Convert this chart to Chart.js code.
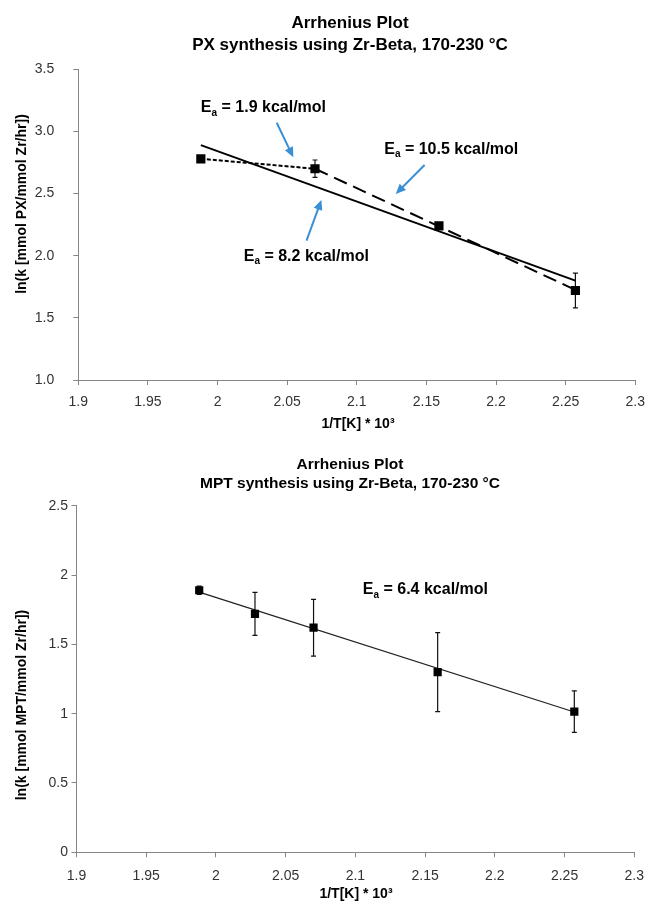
<!DOCTYPE html>
<html>
<head>
<meta charset="utf-8">
<title>Arrhenius Plot</title>
<script src="https://cdn.jsdelivr.net/npm/chart.js@4.4.1/dist/chart.umd.min.js"></script>
<style>
  body { margin: 0; background: #fff; }
  .wrap { position: relative; width: 654px; height: 909px; }
  canvas { position: absolute; left: 0; }
  #pxChart { top: 0; }
  #mptChart { top: 450px; }
</style>
</head>
<body>
<div class="wrap">
  <canvas id="pxChart" width="654" height="450"></canvas>
  <canvas id="mptChart" width="654" height="459"></canvas>
</div>
<script>
// x axis is the same for both plots
const xTicks = [1.9, 1.95, 2.0, 2.05, 2.1, 2.15, 2.2, 2.25, 2.3];
const xTickLabels = ["1.9", "1.95", "2", "2.05", "2.1", "2.15", "2.2", "2.25", "2.3"];

// PX synthesis (top)
const pxX = [1.988, 2.070, 2.159, 2.257];
const pxY = [2.78, 2.70, 2.24, 1.72];
const pxErr = [0, 0.07, 0, 0.14];
const pxFitX = [1.988, 2.257];      // overall fit, 8.2 kcal/mol
const pxFitY = [2.89, 1.80];
const pxLowX = [1.988, 2.070];      // 1.9 kcal/mol
const pxLowY = [2.78, 2.70];
const pxHighX = [2.070, 2.257];     // 10.5 kcal/mol
const pxHighY = [2.70, 1.725];
const pxYTicks = [1.0, 1.5, 2.0, 2.5, 3.0, 3.5];
const pxYTickLabels = ["1.0", "1.5", "2.0", "2.5", "3.0", "3.5"];

// MPT synthesis (bottom)
const mptX = [1.988, 2.028, 2.070, 2.159, 2.257];
const mptY = [1.89, 1.72, 1.62, 1.30, 1.015];
const mptErr = [0.03, 0.155, 0.205, 0.285, 0.15];
const mptFitX = [1.988, 2.257];     // 6.4 kcal/mol
const mptFitY = [1.877, 1.012];
const mptYTicks = [0, 0.5, 1, 1.5, 2, 2.5];
const mptYTickLabels = ["0", "0.5", "1", "1.5", "2", "2.5"];

const fam = "'Liberation Sans Narrow', 'Liberation Sans', sans-serif";
const axisColor = "#868686";
const tickColor = "#333333";
const arrowColor = "#3a8fd5";

Chart.defaults.font.family = fam;

function points(xs, ys) {
  return xs.map((x, i) => ({ x: x, y: ys[i] }));
}

function makeScales(o) {
  return {
    x: {
      type: "linear", min: 1.9, max: 2.3,
      afterBuildTicks: (scale) => { scale.ticks = xTicks.map(v => ({ value: v })); },
      afterFit: (scale) => { scale.height = o.xHeight; },
      grid: { drawOnChartArea: false, drawTicks: true, tickLength: 5, color: axisColor },
      border: { color: axisColor, width: 1 },
      ticks: { padding: o.xPad, color: tickColor, font: { size: 14 }, maxRotation: 0, autoSkip: false,
               callback: (v, i) => xTickLabels[i] }
    },
    y: {
      type: "linear", min: o.yMin, max: o.yMax,
      afterBuildTicks: (scale) => { scale.ticks = o.yTicks.map(v => ({ value: v })); },
      afterFit: (scale) => { scale.width = o.yWidth; },
      grid: { drawOnChartArea: false, drawTicks: true, tickLength: 5, color: axisColor },
      border: { color: axisColor, width: 1 },
      ticks: { padding: o.yPad, color: tickColor, font: { size: 14 }, autoSkip: false,
               callback: (v, i) => o.yTickLabels[i] }
    }
  };
}

// error bars drawn under the markers
function errorBarPlugin(xs, ys, errs, width) {
  return {
    id: "errbars",
    beforeDatasetsDraw(chart) {
      const ctx = chart.ctx, sx = chart.scales.x, sy = chart.scales.y;
      ctx.save();
      ctx.strokeStyle = "#111";
      ctx.lineWidth = width;
      xs.forEach((x, i) => {
        if (!errs[i]) return;
        const px = sx.getPixelForValue(x);
        const top = sy.getPixelForValue(ys[i] + errs[i]);
        const bot = sy.getPixelForValue(ys[i] - errs[i]);
        ctx.beginPath();
        ctx.moveTo(px, top); ctx.lineTo(px, bot);
        ctx.moveTo(px - 2.5, top); ctx.lineTo(px + 2.5, top);
        ctx.moveTo(px - 2.5, bot); ctx.lineTo(px + 2.5, bot);
        ctx.stroke();
      });
      ctx.restore();
    }
  };
}

function drawEa(ctx, rest, x, y, size) {
  ctx.textAlign = "left";
  ctx.textBaseline = "middle";
  ctx.font = "bold " + size + "px " + fam;
  ctx.fillText("E", x, y);
  let w = ctx.measureText("E").width;
  ctx.font = "bold " + Math.round(size * 0.62) + "px " + fam;
  ctx.fillText("a", x + w, y + size * 0.3);
  w += ctx.measureText("a").width;
  ctx.font = "bold " + size + "px " + fam;
  ctx.fillText(rest, x + w, y);
}

function drawArrow(ctx, x1, y1, x2, y2) {
  const ang = Math.atan2(y2 - y1, x2 - x1);
  const head = 10, hw = 4.5;
  const c = Math.cos(ang), s = Math.sin(ang);
  ctx.strokeStyle = arrowColor;
  ctx.fillStyle = arrowColor;
  ctx.lineWidth = 2;
  ctx.beginPath();
  ctx.moveTo(x1, y1);
  ctx.lineTo(x2 - head * 0.8 * c, y2 - head * 0.8 * s);
  ctx.stroke();
  ctx.beginPath();
  ctx.moveTo(x2, y2);
  ctx.lineTo(x2 - head * c + hw * s, y2 - head * s - hw * c);
  ctx.lineTo(x2 - head * c - hw * s, y2 - head * s + hw * c);
  ctx.closePath();
  ctx.fill();
}

// titles, axis titles, Ea notes and arrows (notes/arrows placed in data units)
function textPlugin(cfg) {
  return {
    id: "texts",
    afterDraw(chart) {
      const ctx = chart.ctx, sx = chart.scales.x, sy = chart.scales.y;
      ctx.save();
      ctx.fillStyle = "#000";
      ctx.textAlign = "center";
      ctx.textBaseline = "middle";
      ctx.font = "bold " + cfg.titleSize + "px " + fam;
      cfg.title.forEach((line, i) => ctx.fillText(line, cfg.titleX, cfg.titleY + i * cfg.titleGap));

      ctx.font = "bold 14px " + fam;
      ctx.fillText("1/T[K] * 10³", cfg.xTitle[0], cfg.xTitle[1]);

      ctx.save();
      ctx.translate(cfg.yTitle[0], cfg.yTitle[1]);
      ctx.rotate(-Math.PI / 2);
      ctx.fillText(cfg.yTitleText, 0, 0);
      ctx.restore();

      cfg.notes.forEach(n => {
        ctx.fillStyle = "#000";
        drawEa(ctx, n.text, sx.getPixelForValue(n.x), sy.getPixelForValue(n.y), 16);
      });
      cfg.arrows.forEach(a => {
        drawArrow(ctx, sx.getPixelForValue(a[0]), sy.getPixelForValue(a[1]),
                  sx.getPixelForValue(a[2]), sy.getPixelForValue(a[3]));
      });
      ctx.restore();
    }
  };
}

const baseOptions = {
  responsive: false,
  animation: false,
  plugins: { legend: { display: false }, tooltip: { enabled: false } }
};

new Chart(document.getElementById("pxChart"), {
  type: "scatter",
  data: {
    datasets: [
      { data: points(pxX, pxY), pointStyle: "rect", pointRadius: 6.5, backgroundColor: "#000",
        borderWidth: 0, showLine: false },
      { data: points(pxLowX, pxLowY), showLine: true, pointRadius: 0, borderColor: "#000",
        borderWidth: 2, borderDash: [4, 2] },
      { data: points(pxHighX, pxHighY), showLine: true, pointRadius: 0, borderColor: "#000",
        borderWidth: 2, borderDash: [14, 7] },
      { data: points(pxFitX, pxFitY), showLine: true, pointRadius: 0, borderColor: "#000",
        borderWidth: 2 }
    ]
  },
  options: Object.assign({}, baseOptions, {
    layout: { padding: { left: 0, top: 69.3, right: 14.3, bottom: 0 } },
    scales: makeScales({ xHeight: 70, xPad: 9, yMin: 1, yMax: 3.5, yTicks: pxYTicks,
                         yTickLabels: pxYTickLabels, yWidth: 78.3, yPad: 19 })
  }),
  plugins: [
    errorBarPlugin(pxX, pxY, pxErr, 1.2),
    textPlugin({
      title: ["Arrhenius Plot", "PX synthesis using Zr-Beta, 170-230 °C"],
      titleSize: 17, titleX: 350, titleY: 23.5, titleGap: 21.5,
      xTitle: [358, 424],
      yTitle: [22, 204], yTitleText: "ln(k [mmol PX/mmol Zr/hr])",
      notes: [
        { text: " = 1.9 kcal/mol", x: 1.988, y: 3.189 },
        { text: " = 10.5 kcal/mol", x: 2.1197, y: 2.856 },
        { text: " = 8.2 kcal/mol", x: 2.0188, y: 1.992 }
      ],
      arrows: [
        [2.0425, 3.070, 2.0544, 2.792],
        [2.1487, 2.730, 2.128, 2.497],
        [2.0639, 2.121, 2.0746, 2.449]
      ]
    })
  ]
});

new Chart(document.getElementById("mptChart"), {
  type: "scatter",
  data: {
    datasets: [
      { data: points(mptX, mptY), pointStyle: "rect", pointRadius: 5.8, backgroundColor: "#000",
        borderWidth: 0, showLine: false },
      { data: points(mptFitX, mptFitY), showLine: true, pointRadius: 0, borderColor: "#222",
        borderWidth: 1.3 }
    ]
  },
  options: Object.assign({}, baseOptions, {
    layout: { padding: { left: 0, top: 55.7, right: 16, bottom: 0 } },
    scales: makeScales({ xHeight: 56.7, xPad: 10, yMin: 0, yMax: 2.5, yTicks: mptYTicks,
                         yTickLabels: mptYTickLabels, yWidth: 76.5, yPad: 3.5 })
  }),
  plugins: [
    errorBarPlugin(mptX, mptY, mptErr, 1.2),
    textPlugin({
      title: ["Arrhenius Plot", "MPT synthesis using Zr-Beta, 170-230 °C"],
      titleSize: 15.5, titleX: 350, titleY: 15, titleGap: 18.5,
      xTitle: [356, 444],
      yTitle: [22, 255], yTitleText: "ln(k [mmol MPT/mmol Zr/hr])",
      notes: [
        { text: " = 6.4 kcal/mol", x: 2.1053, y: 1.892 }
      ],
      arrows: []
    })
  ]
});
</script>
</body>
</html>
